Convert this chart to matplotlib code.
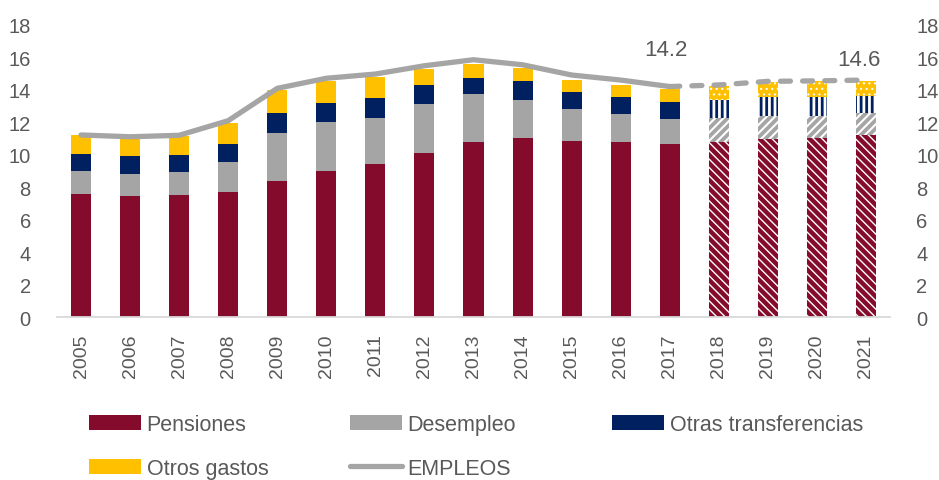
import matplotlib
matplotlib.use("Agg")
import matplotlib.pyplot as plt
from matplotlib.lines import Line2D
import numpy as np

years = ["2005", "2006", "2007", "2008", "2009", "2010", "2011", "2012", "2013",
         "2014", "2015", "2016", "2017", "2018", "2019", "2020", "2021"]
pensiones = [7.57, 7.45, 7.54, 7.71, 8.41, 9.00, 9.43, 10.13, 10.79,
             11.02, 10.87, 10.79, 10.66, 10.81, 10.99, 11.05, 11.22]
desempleo = [1.41, 1.39, 1.38, 1.83, 2.93, 3.00, 2.82, 3.01, 2.93,
             2.37, 1.95, 1.70, 1.54, 1.44, 1.42, 1.36, 1.33]
otras_transf = [1.05, 1.07, 1.07, 1.12, 1.23, 1.19, 1.25, 1.17, 1.01,
                1.15, 1.03, 1.07, 1.05, 1.10, 1.15, 1.15, 1.09]
otros_gastos = [1.19, 1.12, 1.19, 1.30, 1.42, 1.37, 1.27, 0.97, 0.84,
                0.78, 0.77, 0.74, 0.80, 0.88, 0.94, 0.96, 0.88]
empleos = [11.22, 11.11, 11.20, 12.10, 14.09, 14.71, 14.97, 15.48, 15.85,
           15.54, 14.91, 14.60, 14.20, 14.30, 14.52, 14.55, 14.60]
n_hist = 13  # 2005-2017 observed, 2018-2021 forecast
labels_series = ["Pensiones", "Desempleo", "Otras transferencias", "Otros gastos"]
y_ticks = [0, 2, 4, 6, 8, 10, 12, 14, 16, 18]

C_PEN = "#840B2B"
C_DES = "#A5A5A5"
C_OTR = "#002060"
C_OGA = "#FFC000"
C_LINE = "#A5A5A5"
C_TXT = "#595959"
REG = ["Liberation Sans", "DejaVu Sans"]
plt.rcParams["font.family"] = REG

fig = plt.figure(figsize=(9.39, 4.81), dpi=100)
W, H = 939.0, 481.0
ax = fig.add_axes([56.5 / W, 1 - 318.3 / H, (890.5 - 56.5) / W, (318.3 - 25.8) / H])

x = np.arange(len(years))
bw = 0.41
series = [pensiones, desempleo, otras_transf, otros_gastos]
colors = [C_PEN, C_DES, C_OTR, C_OGA]
hatches = ["\\\\\\\\", "////", "|||", "..."]
hatch_lw = [1.0, 1.5, 2.0, 0.8]

xh = x[:n_hist]
xf = x[n_hist:]
bottom_h = np.zeros(n_hist)
bottom_f = np.zeros(len(years) - n_hist)
handles = []
for vals, col, hat, hlw, lab in zip(series, colors, hatches, hatch_lw, labels_series):
    v = np.array(vals)
    b = ax.bar(xh, v[:n_hist], bw, bottom=bottom_h, color=col, linewidth=0, label=lab, zorder=2)
    handles.append(b)
    bf = ax.bar(xf, v[n_hist:], bw, bottom=bottom_f, facecolor=col, edgecolor="white",
                linewidth=0, hatch=hat, zorder=2)
    for p in bf.patches:
        try:
            p.set_hatch_linewidth(hlw)
        except Exception:
            pass
    bottom_h += v[:n_hist]
    bottom_f += v[n_hist:]

emp = np.array(empleos)
ax.plot(x[:n_hist], emp[:n_hist], color=C_LINE, lw=3.8, solid_capstyle="round",
        solid_joinstyle="round", zorder=3)
ax.plot(x[n_hist - 1:], emp[n_hist - 1:], color=C_LINE, lw=3.8, linestyle=(0, (1.9, 2.3)),
        dash_capstyle="round", zorder=3)

ax.annotate("14.2", xy=(12, empleos[12]), xytext=(-2.5, 27), textcoords="offset points",
            ha="center", va="center", fontsize=16, color=C_TXT)
ax.annotate("14.6", xy=(16, empleos[16]), xytext=(-5, 14.5), textcoords="offset points",
            ha="center", va="center", fontsize=16, color=C_TXT)

ax.set_xlim(-0.5, len(years) - 0.5)
ax.set_ylim(0, 18)
ax.set_yticks(y_ticks)
ax.set_yticklabels([str(t) for t in y_ticks])
ax.set_xticks(x)
ax.set_xticklabels(years, rotation=90)
ax.tick_params(axis="y", left=False, right=False, labelleft=True, labelright=True,
               pad=15, labelsize=14.5, labelcolor=C_TXT)
ax.tick_params(axis="x", bottom=False, pad=8, labelsize=14, labelcolor=C_TXT)
for s in ["top", "left", "right"]:
    ax.spines[s].set_visible(False)
ax.spines["bottom"].set_color("#D9D9D9")
ax.spines["bottom"].set_linewidth(1.3)

line_handle = Line2D([], [], color=C_LINE, lw=3.8, solid_capstyle="round")

leg_kw = dict(frameon=False, loc="upper left", borderpad=0, borderaxespad=0,
              handlelength=2.42, handleheight=0.68, handletextpad=0.26, labelspacing=1.06,
              prop={"family": REG, "size": 15.5}, labelcolor=C_TXT)
top = 1 - 415.0 / H
fig.legend([handles[0], handles[3]], ["Pensiones", "Otros gastos"],
           bbox_to_anchor=(89 / W, top), **leg_kw)
fig.legend([handles[1], line_handle], ["Desempleo", "EMPLEOS"],
           bbox_to_anchor=(350 / W, top), **leg_kw)
fig.legend([handles[2]], ["Otras transferencias"],
           bbox_to_anchor=(612 / W, top), **leg_kw)

fig.savefig("out.png", dpi=100)
